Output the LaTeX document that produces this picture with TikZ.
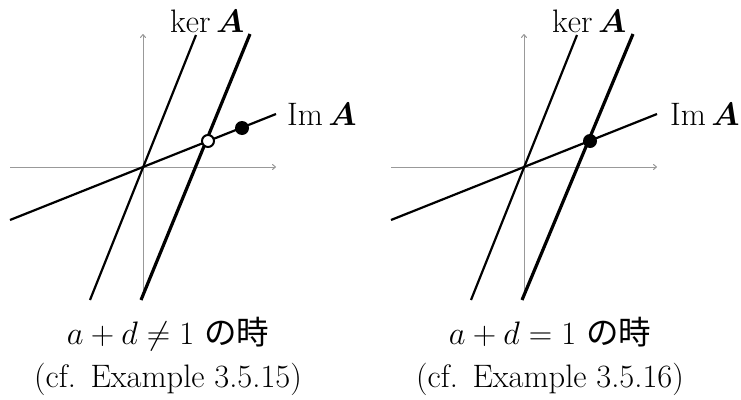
\RequirePackage{fix-cm}
\documentclass[tikz,border=0pt]{standalone}
\usepackage{amsmath}
\usepackage{bm}
\usepackage{fontspec}
\newfontfamily\jpfont{Noto Sans CJK JP}
\usetikzlibrary{arrows.meta}
\tikzset{
  axisline/.style={draw=black!40, line width=1pt, -{To[length=4pt,width=6pt]}},
  thinline/.style={draw=black, line width=2.2pt},
  thickline/.style={draw=black, line width=3.2pt},
  lbl/.style={inner sep=0pt, font=\fontsize{32.5}{38}\selectfont},
  opendot/.style={circle, draw=black, line width=2pt, fill=white, minimum size=12pt, inner sep=0pt},
  fulldot/.style={circle, fill=black, minimum size=14pt, inner sep=0pt},
}
\begin{document}
\begin{tikzpicture}[x=1pt,y=-1pt]
\useasboundingbox (0,0) rectangle (741,399);
% ---------- left panel ----------
\coordinate (LhA) at (10,167);  \coordinate (LhB) at (276,167);
\coordinate (LvA) at (143,297); \coordinate (LvB) at (143,34);
\coordinate (LiA) at (10,220);  \coordinate (LiB) at (276,114);
\coordinate (LkA) at (90,300);  \coordinate (LkB) at (196,35);
\coordinate (LtA) at (141,300); \coordinate (LtB) at (250,34);
\draw[axisline] (LhA) -- (LhB);
\draw[axisline] (LvA) -- (LvB);
\draw[thinline] (LiA) -- (LiB);
\draw[thinline] (LkA) -- (LkB);
\draw[thickline] (LtA) -- (LtB);
\node[opendot] (Lopen) at (208,141) {};
\node[fulldot] (Lfull) at (242,128) {};
\node[lbl, anchor=base west] (Lker) at (170,32) {$\ker\bm{A}$};
\node[lbl, anchor=base west] (Lim) at (287,125) {$\operatorname{Im}\bm{A}$};
\node[lbl, anchor=base] (Lcap1) at (168,344) {$a+d\neq 1$ {\jpfont の時}};
\node[lbl, anchor=base] (Lcap2) at (168,387) {(cf.\hspace{0.45em}Example 3.5.15)};
% ---------- right panel ----------
\coordinate (RhA) at (391,167); \coordinate (RhB) at (657,167);
\coordinate (RvA) at (524,297); \coordinate (RvB) at (524,34);
\coordinate (RiA) at (391,220); \coordinate (RiB) at (657,114);
\coordinate (RkA) at (471,300); \coordinate (RkB) at (577,35);
\coordinate (RtA) at (522,300); \coordinate (RtB) at (633,34);
\draw[axisline] (RhA) -- (RhB);
\draw[axisline] (RvA) -- (RvB);
\draw[thinline] (RiA) -- (RiB);
\draw[thinline] (RkA) -- (RkB);
\draw[thickline] (RtA) -- (RtB);
\node[fulldot] (Rfull) at (590,141) {};
\node[lbl, anchor=base west] (Rker) at (552,32) {$\ker\bm{A}$};
\node[lbl, anchor=base west] (Rim) at (670,125) {$\operatorname{Im}\bm{A}$};
\node[lbl, anchor=base] (Rcap1) at (550,344) {$a+d=1$ {\jpfont の時}};
\node[lbl, anchor=base] (Rcap2) at (550,387) {(cf.\hspace{0.45em}Example 3.5.16)};
\end{tikzpicture}
\end{document}
